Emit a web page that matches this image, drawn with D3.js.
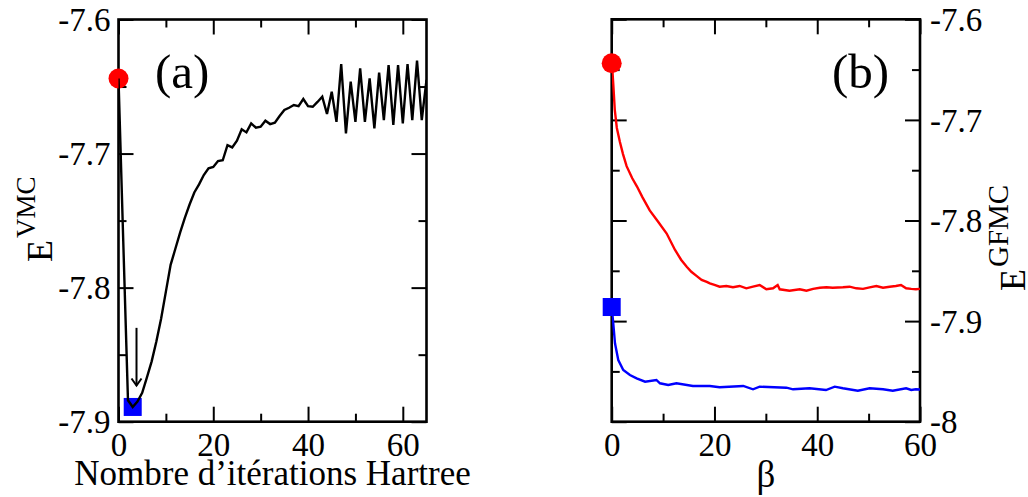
<!DOCTYPE html>
<html><head><meta charset="utf-8">
<script src="https://cdn.jsdelivr.net/npm/d3@7"></script>
<style>
html,body{margin:0;padding:0;background:#fff;}
svg{display:block;}
text{font-family:"Liberation Serif","Times New Roman",serif;fill:#000;}
</style></head>
<body>
<svg id="chart" width="1028" height="497"></svg>
<script>
// ---------- DATA ----------
const vmcIter = d3.range(0, 66);
const vmcEnergy = [-7.644,-7.765,-7.884,-7.889,-7.885,-7.8785,-7.867,-7.855,-7.840,-7.823,
  -7.803,-7.783,-7.771,-7.759,-7.748,-7.738,-7.729,-7.723,-7.716,-7.711,
  -7.710,-7.7056,-7.705,-7.6937,-7.6954,-7.6904,-7.6819,-7.6842,-7.6775,-7.6807,
  -7.6800,-7.6755,-7.6780,-7.6770,-7.6720,-7.6675,-7.6658,-7.6638,-7.6646,-7.6593,
  -7.6646,-7.6651,-7.6615,-7.6576,-7.6705,-7.6539,-7.6763,-7.6332,-7.6849,-7.6464,
  -7.6763,-7.6364,-7.6763,-7.6439,-7.6812,-7.6397,-7.6750,-7.6340,-7.6787,-7.6340,
  -7.6775,-7.6332,-7.6750,-7.6307,-7.6750,-7.6450];
const vmcStart = [0, -7.644];
const vmcBest = [3, -7.889];
const arrowX = 3.8, arrowFrom = -7.83, arrowTo = -7.873;

const betaRed = [0,0.15,0.3,0.6,1,1.6,2.2,2.9,4,4.9,6,7.4,9,10.7,12.3,13.5,14.6,15.5,16.5,17.5,
  18.5,19.1,20,21,22.3,23.6,24.9,26.2,27.5,28.8,30.1,31.4,32.3,32.7,34.6,36.6,37.9,39.2,40.5,41.8,
  43,45,46.3,47.6,48.9,50.2,51.5,52.8,54.1,55.3,56.3,57.3,58.3,59.2,60];
const gfmcRed = [-7.644,-7.652,-7.664,-7.690,-7.708,-7.722,-7.734,-7.746,-7.758,-7.766,
  -7.777,-7.790,-7.801,-7.813,-7.829,-7.839,-7.846,-7.851,-7.855,-7.859,
  -7.861,-7.8625,-7.864,-7.8658,-7.8651,-7.8664,-7.8651,-7.8674,-7.8658,-7.8641,
  -7.8684,-7.8674,-7.8641,-7.8684,-7.8698,-7.8684,-7.8698,-7.868,-7.8668,-7.8664,
  -7.8668,-7.8664,-7.8658,-7.8674,-7.868,-7.8664,-7.8651,-7.8668,-7.8658,-7.8651,
  -7.8641,-7.8674,-7.868,-7.8684,-7.868];
const betaBlue = [0,0.3,0.64,1.28,2.25,3.55,4.85,6.5,8.7,9.4,11,12.6,15.8,19.1,21,25.6,27.5,28.8,34,35.3,
  38.5,41.7,43.4,45,47.9,50.2,52.8,54.7,57.3,58.3,59.2,60];
const gfmcBlue = [-7.886,-7.902,-7.922,-7.9387,-7.9486,-7.9536,-7.9569,-7.9602,-7.9585,-7.9618,
  -7.9635,-7.9618,-7.9645,-7.9645,-7.9658,-7.9645,-7.9678,-7.9652,-7.9662,-7.9678,
  -7.9668,-7.9685,-7.9652,-7.9668,-7.9692,-7.9668,-7.9678,-7.9692,-7.9668,-7.9685,
  -7.9678,-7.968];
const gfmcRedStart = [0, -7.6437];
const gfmcBlueStart = [0, -7.886];

const leftXMajor = [0, 20, 40, 60], leftXMinor = [10, 30, 50];
const leftXLabels = ["0", "20", "40", "60"];
const leftYMajor = [-7.9, -7.8, -7.7, -7.6], leftYMinor = [-7.85, -7.75, -7.65];
const leftYLabels = ["-7.9", "-7.8", "-7.7", "-7.6"];
const rightXMajor = [0, 20, 40, 60], rightXMinor = [10, 30, 50];
const rightXLabels = ["0", "20", "40", "60"];
const rightYMajor = [-8, -7.9, -7.8, -7.7, -7.6], rightYMinor = [-7.95, -7.85, -7.75, -7.65];
const rightYLabels = ["-8", "-7.9", "-7.8", "-7.7", "-7.6"];

// ---------- DRAW ----------
const svg = d3.select("#chart");
const TF = 33, MAJ = 15, MIN = 8, LW = 2.4;

function panel(opt) {
  const g = svg.append("g");
  const x = d3.scaleLinear().domain(opt.xDom).range([opt.x0, opt.x1]);
  const y = d3.scaleLinear().domain(opt.yDom).range([opt.y1, opt.y0]);
  const clipId = "clip" + opt.name;
  svg.append("clipPath").attr("id", clipId).append("rect")
    .attr("x", opt.x0).attr("y", opt.y0).attr("width", opt.x1 - opt.x0).attr("height", opt.y1 - opt.y0);

  function tickGroup(axisGen, tx, ty, vals, size, labels) {
    const a = axisGen.tickValues(vals).tickSizeInner(size).tickSizeOuter(0)
      .tickFormat((d, i) => labels ? labels[i] : "");
    const gg = g.append("g").attr("transform", `translate(${tx},${ty})`).call(a);
    gg.select(".domain").remove();
    gg.selectAll(".tick line").attr("stroke", "#000").attr("stroke-width", 2);
    gg.selectAll(".tick text").attr("font-size", TF).attr("font-family", "Liberation Serif").attr("fill", "#000");
    return gg;
  }
  const bx = tickGroup(d3.axisBottom(x), 0, opt.y1, opt.xMajor, -MAJ, opt.xLabels);
  bx.selectAll(".tick text").attr("y", 0).attr("dy", "1.03em");
  tickGroup(d3.axisBottom(x), 0, opt.y1, opt.xMinor, -MIN, null);
  tickGroup(d3.axisTop(x), 0, opt.y0, opt.xMajor, -MAJ, null);
  tickGroup(d3.axisTop(x), 0, opt.y0, opt.xMinor, -MIN, null);
  const ly = tickGroup(d3.axisLeft(y), opt.x0, 0, opt.yMajor, -MAJ, opt.yAxisSide === "left" ? opt.yLabels : null);
  tickGroup(d3.axisLeft(y), opt.x0, 0, opt.yMinor, -MIN, null);
  const ry = tickGroup(d3.axisRight(y), opt.x1, 0, opt.yMajor, -MAJ, opt.yAxisSide === "right" ? opt.yLabels : null);
  tickGroup(d3.axisRight(y), opt.x1, 0, opt.yMinor, -MIN, null);
  if (opt.yAxisSide === "left") ly.selectAll(".tick text").attr("x", -8).attr("dy", "0.34em");
  else ry.selectAll(".tick text").attr("x", 10).attr("dy", "0.34em");

  g.append("rect").attr("x", opt.x0).attr("y", opt.y0)
    .attr("width", opt.x1 - opt.x0).attr("height", opt.y1 - opt.y0)
    .attr("fill", "none").attr("stroke", "#000").attr("stroke-width", 2.6);
  return {g, x, y, clipId};
}

// Left panel (a)
const L = panel({name: "L", x0: 118.5, x1: 426.5, y0: 19.5, y1: 421.7, xDom: [0, 65], yDom: [-7.9, -7.6],
  xMajor: leftXMajor, xMinor: leftXMinor, xLabels: leftXLabels,
  yMajor: leftYMajor, yMinor: leftYMinor, yLabels: leftYLabels, yAxisSide: "left"});

L.g.append("circle").attr("cx", L.x(vmcStart[0])).attr("cy", L.y(vmcStart[1])).attr("r", 10).attr("fill", "#ff0000");
L.g.append("rect").attr("x", L.x(vmcBest[0]) - 9).attr("y", L.y(vmcBest[1]) - 9)
  .attr("width", 18).attr("height", 18).attr("fill", "#0000ff");
L.g.append("path").datum(vmcIter.map((d, i) => [d, vmcEnergy[i]]))
  .attr("clip-path", `url(#${L.clipId})`)
  .attr("fill", "none").attr("stroke", "#000").attr("stroke-width", LW).attr("stroke-linejoin", "miter")
  .attr("d", d3.line().x(d => L.x(d[0])).y(d => L.y(d[1])));
const ax = L.x(arrowX), ay0 = L.y(arrowFrom), ay1 = L.y(arrowTo);
L.g.append("line").attr("x1", ax).attr("x2", ax).attr("y1", ay0).attr("y2", ay1)
  .attr("stroke", "#000").attr("stroke-width", 2);
L.g.append("path").attr("d", `M${ax - 5},${ay1 - 7} L${ax},${ay1} L${ax + 5},${ay1 - 7}`)
  .attr("fill", "none").attr("stroke", "#000").attr("stroke-width", 2);

L.g.append("text").attr("x", 155).attr("y", 88).attr("font-size", 49).text("(a)");
L.g.append("text").attr("x", L.x(0) + (L.x(65) - L.x(0)) / 2).attr("y", 485)
  .attr("text-anchor", "middle").attr("font-size", 35).text("Nombre d\u2019it\u00e9rations Hartree");
const lt = L.g.append("text").attr("transform", "translate(52,262) rotate(-90)").attr("font-size", 36);
lt.append("tspan").text("E");
lt.append("tspan").attr("font-size", 27).attr("dy", "-0.62em").attr("dx", "2").text("VMC");

// Right panel (b)
const R = panel({name: "R", x0: 611.7, x1: 920, y0: 19.3, y1: 421.7, xDom: [0, 60], yDom: [-8, -7.6],
  xMajor: rightXMajor, xMinor: rightXMinor, xLabels: rightXLabels,
  yMajor: rightYMajor, yMinor: rightYMinor, yLabels: rightYLabels, yAxisSide: "right"});

R.g.append("circle").attr("cx", R.x(gfmcRedStart[0])).attr("cy", R.y(gfmcRedStart[1])).attr("r", 10).attr("fill", "#ff0000");
R.g.append("rect").attr("x", R.x(gfmcBlueStart[0]) - 9).attr("y", R.y(gfmcBlueStart[1]) - 9)
  .attr("width", 18).attr("height", 18).attr("fill", "#0000ff");
const rl = d3.line().x(d => R.x(d[0])).y(d => R.y(d[1]));
R.g.append("path").datum(betaRed.map((d, i) => [d, gfmcRed[i]])).attr("clip-path", `url(#${R.clipId})`)
  .attr("fill", "none").attr("stroke", "#ff0000").attr("stroke-width", LW).attr("d", rl);
R.g.append("path").datum(betaBlue.map((d, i) => [d, gfmcBlue[i]])).attr("clip-path", `url(#${R.clipId})`)
  .attr("fill", "none").attr("stroke", "#0000ff").attr("stroke-width", LW).attr("d", rl);

R.g.append("text").attr("x", 832).attr("y", 88).attr("font-size", 49).text("(b)");
R.g.append("text").attr("x", (R.x(0) + R.x(60)) / 2).attr("y", 487)
  .attr("text-anchor", "middle").attr("font-size", 37).text("\u03b2");
const rt = R.g.append("text").attr("transform", "translate(1025,291) rotate(-90)").attr("font-size", 36);
rt.append("tspan").text("E");
rt.append("tspan").attr("font-size", 29).attr("dy", "-0.58em").attr("dx", "2").text("GFMC");
</script>
</body></html>
